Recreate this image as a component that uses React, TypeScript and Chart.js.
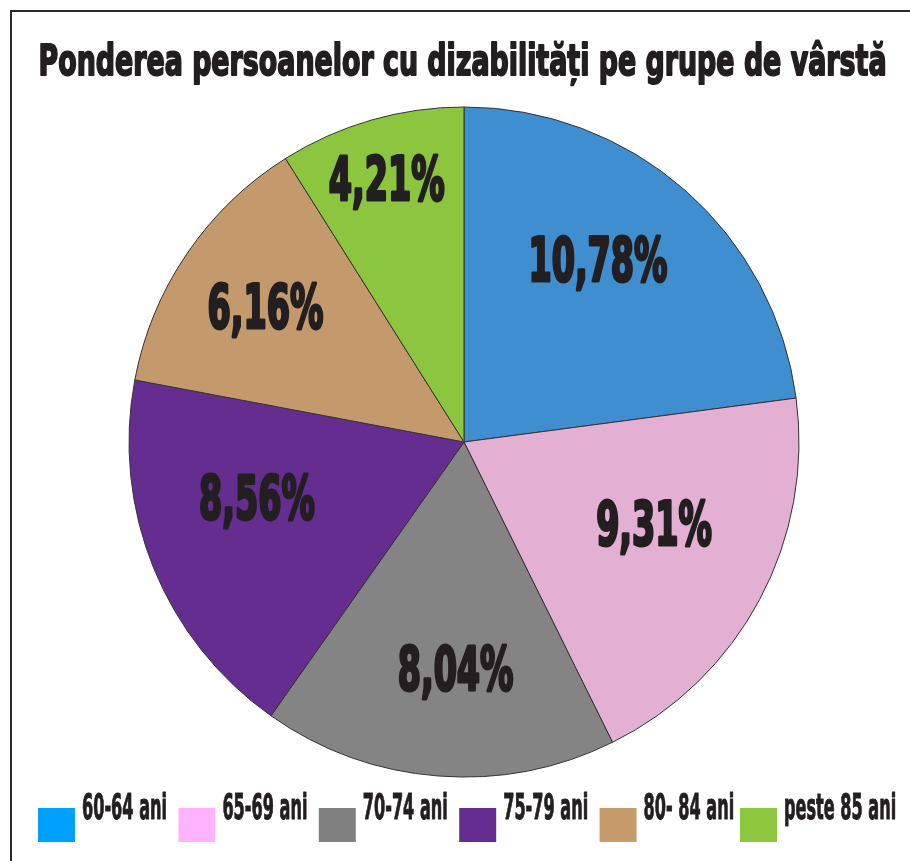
import React, { useEffect, useRef } from "react";
import { Chart, registerables } from "chart.js";
Chart.register(...registerables);

const titleText = "Ponderea persoanelor cu dizabilități pe grupe de vârstă";
const categories = ["60-64 ani", "65-69 ani", "70-74 ani", "75-79 ani", "80- 84 ani", "peste 85 ani"];
const values = [10.78, 9.31, 8.04, 8.56, 6.16, 4.21];
const valueLabels = ["10,78%", "9,31%", "8,04%", "8,56%", "6,16%", "4,21%"];
const sliceColors = ["#3f8fd0", "#e3b0d3", "#848484", "#652d90", "#c49a6c", "#8cc63f"];
const legendColors = ["#00a0ff", "#ffb3ff", "#808080", "#662d91", "#c69c6d", "#8dc63f"];

const FONT = "'Liberation Sans Narrow', 'DejaVu Sans Condensed', 'Liberation Sans', sans-serif";
const INK = "#231f20";

// layout-only nudges for the value labels (px), relative to mid-angle anchor
const labelNudges = [[-14, -14], [-8, -25], [9, 2], [1, -29], [-13, -10], [-15, -48]];

function setFont(ctx: CanvasRenderingContext2D, size: number) {
  ctx.font = `bold ${size}px ${FONT}`;
}

function drawScaled(
  ctx: CanvasRenderingContext2D,
  text: string,
  x: number,
  baseline: number,
  size: number,
  sx: number,
  align: "left" | "center",
  stroke: number
) {
  ctx.save();
  setFont(ctx, size);
  const w = ctx.measureText(text).width * sx;
  const left = align === "center" ? x - w / 2 : x;
  ctx.translate(left, baseline);
  ctx.scale(sx, 1);
  ctx.textAlign = "left";
  ctx.textBaseline = "alphabetic";
  ctx.fillStyle = INK;
  ctx.strokeStyle = INK;
  ctx.lineWidth = stroke;
  ctx.lineJoin = "round";
  ctx.fillText(text, 0, 0);
  if (stroke > 0) ctx.strokeText(text, 0, 0);
  ctx.restore();
}

const decorPlugin = {
  id: "decor",
  afterDatasetsDraw(chart: any) {
    const ctx: CanvasRenderingContext2D = chart.ctx;
    // Title
    const titleSize = 43;
    setFont(ctx, titleSize);
    const tw = ctx.measureText(titleText).width;
    drawScaled(ctx, titleText, 462.5, 75, titleSize, 848 / tw, "center", 2.0);

    // Value labels
    const meta = chart.getDatasetMeta(0);
    const labelSize = 60;
    setFont(ctx, labelSize);
    const lsx = 139 / ctx.measureText(valueLabels[0]).width;
    meta.data.forEach((arc: any, i: number) => {
      const p = arc.getProps(["x", "y", "startAngle", "endAngle", "outerRadius"], true);
      const mid = (p.startAngle + p.endAngle) / 2;
      const r = p.outerRadius * 0.67;
      const cx = p.x + Math.cos(mid) * r + labelNudges[i][0];
      const cy = p.y + Math.sin(mid) * r + labelNudges[i][1];
      drawScaled(ctx, valueLabels[i], cx, cy + 22, labelSize, lsx, "center", 3.2);
    });

    // Legend
    const legSize = 36;
    setFont(ctx, legSize);
    const gsx = 85 / ctx.measureText(categories[0]).width;
    categories.forEach((name, i) => {
      const bx = 38 + i * 140.4;
      ctx.fillStyle = legendColors[i];
      ctx.fillRect(bx, 808, 37, 34);
      drawScaled(ctx, name, bx + 44, 819, legSize, gsx, "left", 1.0);
    });
  },
};

export default function App() {
  const ref = useRef<HTMLCanvasElement>(null);
  useEffect(() => {
    const chart = new Chart(ref.current!, {
      type: "pie",
      data: {
        labels: categories,
        datasets: [
          {
            data: values,
            backgroundColor: sliceColors,
            borderColor: "#333333",
            borderWidth: 1,
          },
        ],
      },
      options: {
        animation: false,
        responsive: false,
        maintainAspectRatio: false,
        devicePixelRatio: 1,
        layout: { padding: { left: 128.5, right: 110.5, top: 106.5, bottom: 83.5 } },
        plugins: {
          legend: { display: false },
          title: { display: false },
          tooltip: { enabled: false },
        },
      },
      plugins: [decorPlugin],
    } as any);
    return () => chart.destroy();
  }, []);
  return (
    <div
      style={{
        position: "fixed",
        left: 0,
        top: 0,
        width: 910,
        height: 861,
        overflow: "hidden",
        background: "#fff",
      }}
    >
      <div
        style={{
          position: "absolute",
          left: 10,
          top: 10,
          width: 1000,
          height: 1000,
          borderLeft: "2px solid #2a2a2a",
          borderTop: "2px solid #2a2a2a",
        }}
      />
      <canvas
        ref={ref}
        width={910}
        height={861}
        style={{ position: "absolute", left: 0, top: 0, width: 910, height: 861 }}
      />
    </div>
  );
}
